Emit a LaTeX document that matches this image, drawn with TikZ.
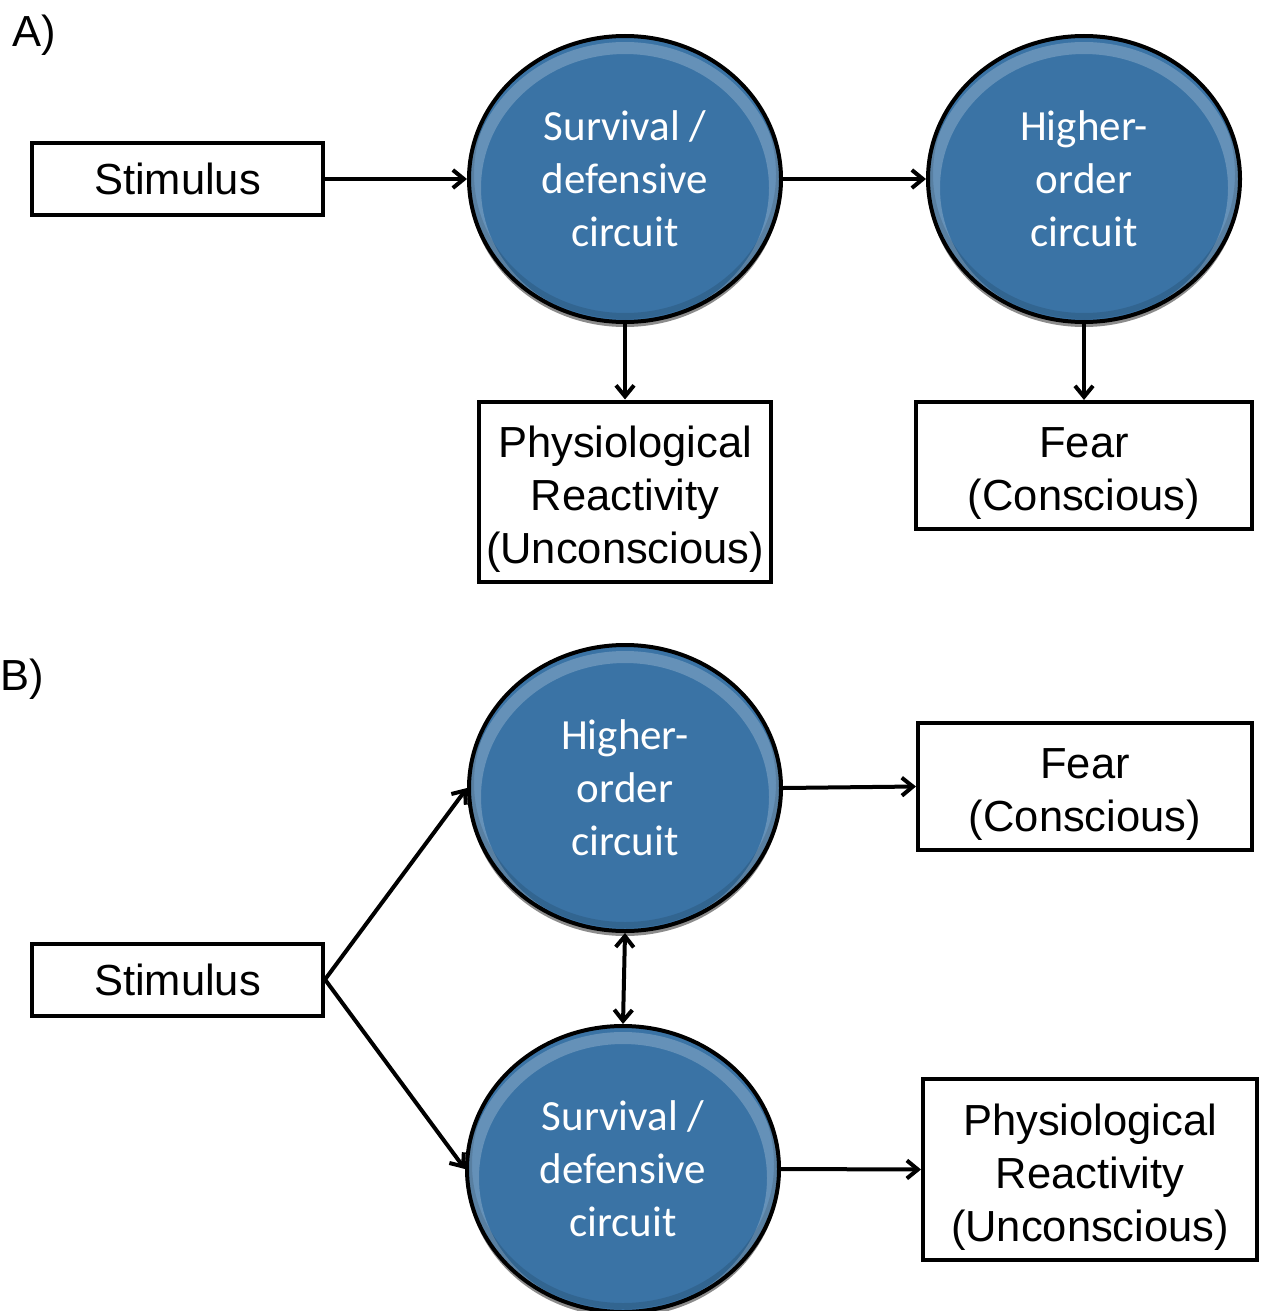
\documentclass[tikz,border=0pt]{standalone}
\usepackage{fontspec}
\setmainfont{Liberation Sans}
\newfontfamily\calfont{Carlito}
\usetikzlibrary{shapes.geometric,arrows.meta,shadows}
\definecolor{cblue}{RGB}{58,115,165}
\newcommand\lowtext[2]{\raisebox{-#1}[\height][\depth]{\begin{tabular}{@{}c@{}}#2\end{tabular}}}
\begin{document}
\begin{tikzpicture}[x=1pt,y=-1pt,
  >={Straight Barb[length=11pt,width=18pt]},
  txt/.style={font=\fontsize{43.5}{53}\selectfont},
  box/.style={draw=black, line width=4pt, fill=white, inner sep=0pt, align=center, txt},
  circ/.style={ellipse, minimum width=312pt, minimum height=286pt, inner sep=0pt,
    fill=cblue, draw=black, line width=4pt, text=white, align=center,
    font=\calfont\fontsize{43}{53}\selectfont,
    drop shadow={shadow xshift=0pt, shadow yshift=-5pt, fill=black, opacity=0.45},
    path picture={\draw[white, opacity=0.22, line width=12pt]
      ([yshift=-9pt]path picture bounding box.center) ellipse [x radius=150pt, y radius=140pt];
      \draw[black, opacity=0.12, line width=6pt]
      ([yshift=5pt]path picture bounding box.center) ellipse [x radius=154pt, y radius=142pt];}},
  ar/.style={->, line width=4pt},
  lbl/.style={anchor=base west, inner sep=0pt, txt}]
\useasboundingbox (0,0) rectangle (1261,1311);

% Panel A
\node[lbl] (la) at (12,47) {A)};
\node[box, minimum width=291pt, minimum height=72pt] (sA) at (177.5,179) {Stimulus};
\node[circ] (svA) at (625,179) {\lowtext{4pt}{Survival /\\defensive\\circuit}};
\node[circ] (hA) at (1084,179) {\lowtext{4pt}{Higher-\\order\\circuit}};
\node[box, minimum width=292pt, minimum height=180pt] (pA) at (625,491.5) {\lowtext{8pt}{Physiological\\Reactivity\\(Unconscious)}};
\node[box, minimum width=336pt, minimum height=127pt] (fA) at (1084,465.5) {\lowtext{8pt}{Fear\\(Conscious)}};
\draw[ar] (sA.east) -- (svA.west);
\draw[ar] (svA.east) -- (hA.west);
\draw[ar] (svA.south) -- (pA.north);
\draw[ar] (hA.south) -- (fA.north);

% Panel B
\node[lbl] (lb) at (0,690) {B)};
\node[circ] (hB) at (625,788) {\lowtext{4pt}{Higher-\\order\\circuit}};
\node[box, minimum width=334pt, minimum height=127pt] (fB) at (1085,786.5) {\lowtext{8pt}{Fear\\(Conscious)}};
\node[box, minimum width=291pt, minimum height=72pt] (sB) at (177.5,979.5) {Stimulus};
\node[circ] (svB) at (623,1169) {\lowtext{4pt}{Survival /\\defensive\\circuit}};
\node[box, minimum width=334pt, minimum height=181pt] (pB) at (1090,1169.5) {\lowtext{8pt}{Physiological\\Reactivity\\(Unconscious)}};
\draw[ar] (sB.east) -- (hB.west);
\draw[ar] (sB.east) -- (svB.west);
\draw[<->, line width=4pt] (hB.south) -- (svB.north);
\draw[ar] (hB.east) -- (fB.west);
\draw[ar] (svB.east) -- (pB.west);
\end{tikzpicture}
\end{document}
